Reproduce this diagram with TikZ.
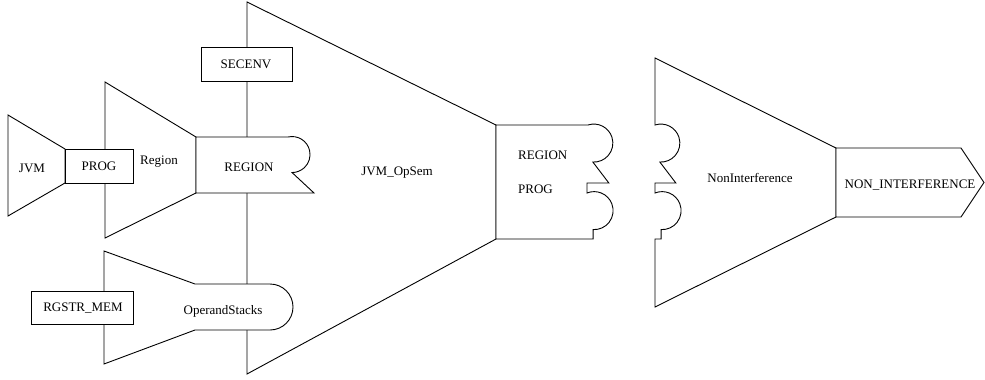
\documentclass[tikz,border=0pt]{standalone}
\usepackage{fontspec}
\setmainfont{Liberation Serif}
\begin{document}
\begin{tikzpicture}[x=1pt,y=-1pt,
  shapeline/.style={draw=black,fill=white,line width=0.9pt,line join=miter},
  lbl/.style={font=\fontsize{13}{15}\selectfont,inner sep=0pt}]
\useasboundingbox (0,0) rectangle (985,380);

% JVM_OpSem funnel
\draw[shapeline] (247,2) -- (496,125) -- (496,239) -- (247,374) -- cycle;
% Region funnel
\draw[shapeline] (105,82) -- (196,137) -- (196,193) -- (105,238) -- cycle;
% JVM funnel
\draw[shapeline] (8,115) -- (65,149) -- (65,183) -- (8,216) -- cycle;
% OperandStacks funnel with round end
\draw[shapeline] (104,251) -- (195,284) -- (270,284)
  arc[start angle=-90,end angle=90,radius=23] -- (195,330) -- (104,364) -- cycle;

% plain boxes
\draw[shapeline] (65,149) rectangle (133,183);
\draw[shapeline] (201,47) rectangle (292,81);
\draw[shapeline] (31,291) rectangle (133,324);

% REGION output with one knob
\draw[shapeline] (196,137) -- (288,137)
  arc[start angle=-103,end angle=90,radius=18] -- (314,193) -- (196,193) -- cycle;

% REGION / PROG output with two knobs
\draw[shapeline] (496,125) -- (588,125)
  arc[start angle=-108,end angle=93,radius=19] -- ++(16,21) -- (587,183) -- (587,193)
  arc[start angle=-112,end angle=93,radius=19] |- (496,239) -- cycle;

% NonInterference funnel with matching sockets
\draw[shapeline] (655,125)
  arc[start angle=-108,end angle=93,radius=19] -- ++(16,21) -- (655,183) -- (655,193)
  arc[start angle=-112,end angle=93,radius=19] |- (655,239) -- (655,307)
  -- (836,217) -- (836,148) -- (655,58) -- cycle;

% NON_INTERFERENCE arrow box
\draw[shapeline] (836,148) -- (961,148) -- (984,182.5) -- (961,217) -- (836,217) -- cycle;

% labels
\node[lbl] (tJVM) at (32,168) {JVM};
\node[lbl] (tPROG) at (99,166) {PROG};
\node[lbl] (tRegion) at (159,162) {Region};
\node[lbl] (tREGION) at (249,167) {REGION};
\node[lbl] (tSECENV) at (246,64) {SECENV};
\node[lbl] (tOpSem) at (397,173) {JVM\_OpSem};
\node[lbl,anchor=west] (tOutRegion) at (518,155) {REGION};
\node[lbl,anchor=west] (tOutProg) at (518,189) {PROG};
\node[lbl] (tNonInt) at (750,178) {NonInterference};
\node[lbl] (tNONINT) at (910,185) {NON\_INTERFERENCE};
\node[lbl] (tOpStacks) at (223,311) {OperandStacks};
\node[lbl] (tRGSTR) at (83,308) {RGSTR\_MEM};
\end{tikzpicture}
\end{document}
